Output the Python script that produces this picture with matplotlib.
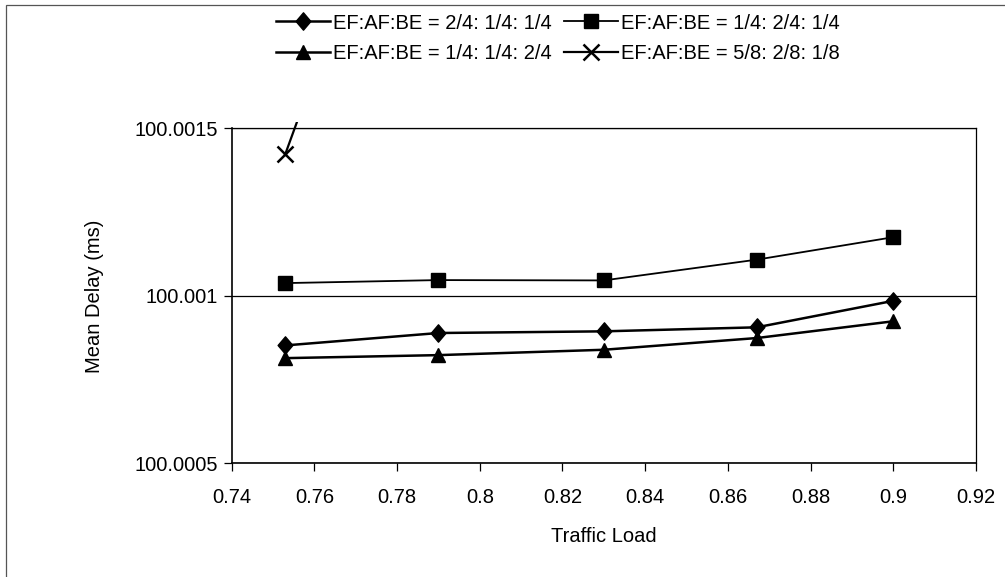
import matplotlib
matplotlib.use("Agg")
import matplotlib.pyplot as plt
from matplotlib.patches import Rectangle
from matplotlib.path import Path
from matplotlib.transforms import Bbox, TransformedBbox

plt.rcParams['font.family'] = ['Liberation Sans', 'DejaVu Sans']

# Traffic load values for each measurement
traffic_load = [0.753, 0.79, 0.83, 0.867, 0.9]

# Mean delay (ms) for each EF:AF:BE weight setting
delay_242 = [100.000852, 100.000889, 100.000894, 100.000906, 100.000985]
delay_124 = [100.001038, 100.001047, 100.001046, 100.001108, 100.001175]
delay_114 = [100.000814, 100.000823, 100.000839, 100.000874, 100.000924]
delay_521 = [100.001424, 100.00268, 100.0035, 100.0045, 100.006]

series_labels = [
    "EF:AF:BE = 2/4: 1/4: 1/4",
    "EF:AF:BE = 1/4: 2/4: 1/4",
    "EF:AF:BE = 1/4: 1/4: 2/4",
    "EF:AF:BE = 5/8: 2/8: 1/8",
]

x_ticks = [0.74, 0.76, 0.78, 0.8, 0.82, 0.84, 0.86, 0.88, 0.9, 0.92]
x_tick_labels = ["0.74", "0.76", "0.78", "0.8", "0.82", "0.84", "0.86", "0.88", "0.9", "0.92"]
y_ticks = [100.0005, 100.001, 100.0015]
y_tick_labels = ["100.0005", "100.001", "100.0015"]

fig = plt.figure(figsize=(10.05, 5.77), dpi=100)
ax = fig.add_axes([0.2305, 0.197, 0.7406, 0.5806])

# slightly tall diamond marker
diamond = Path([(0, 1), (0.85, 0), (0, -1), (-0.85, 0), (0, 1)],
               [Path.MOVETO, Path.LINETO, Path.LINETO, Path.LINETO, Path.CLOSEPOLY])

h1, = ax.plot(traffic_load, delay_242, color='black', lw=1.8, marker=diamond,
              ms=12.5, label=series_labels[0])
h2, = ax.plot(traffic_load, delay_124, color='black', lw=1.3, marker='s',
              ms=10.5, label=series_labels[1])
h3, = ax.plot(traffic_load, delay_114, color='black', lw=1.8, marker='^',
              ms=10.5, label=series_labels[2])
h4, = ax.plot(traffic_load, delay_521, color='black', lw=1.6, marker='x',
              ms=11.5, mew=1.8, label=series_labels[3])
# let the off-scale series poke just above the plot area
h4.set_clip_box(TransformedBbox(Bbox([[0, 0], [1, 1.02]]), ax.transAxes))

ax.set_xlim(0.74, 0.92)
ax.set_ylim(100.0005, 100.0015)
ax.set_xticks(x_ticks)
ax.set_xticklabels(x_tick_labels)
ax.set_yticks(y_ticks)
ax.set_yticklabels(y_tick_labels)
ax.tick_params(axis='both', direction='out', length=6, width=0.9, labelsize=14.5,
               colors='black')
ax.tick_params(axis='x', pad=12)
ax.tick_params(axis='y', pad=4)
ax.grid(axis='y', color='black', lw=0.9)
ax.set_axisbelow(True)
for s in ax.spines.values():
    s.set_color('black')
    s.set_linewidth(0.9)
ax.spines['left'].set_linewidth(1.2)
ax.spines['bottom'].set_linewidth(1.2)

ax.set_xlabel("Traffic Load", fontsize=14.5, labelpad=14)
ax.set_ylabel("Mean Delay (ms)", fontsize=14.5, labelpad=22)

# legend filled column-wise: row 1 = diamond, square; row 2 = triangle, cross
leg = fig.legend(handles=[h1, h3, h2, h4], loc='upper center', ncol=2,
                 bbox_to_anchor=(0.555, 1.008), frameon=False, fontsize=14.5,
                 handlelength=2.7, handletextpad=0.15, columnspacing=0.6,
                 labelspacing=0.55)

# outer chart frame
fig.patches.append(Rectangle((6 / 1005, -0.1), 1.2, 1 - 5 / 577 + 0.1,
                             transform=fig.transFigure, fill=False,
                             edgecolor='#555555', lw=0.9))

fig.savefig("out.png", dpi=100)
